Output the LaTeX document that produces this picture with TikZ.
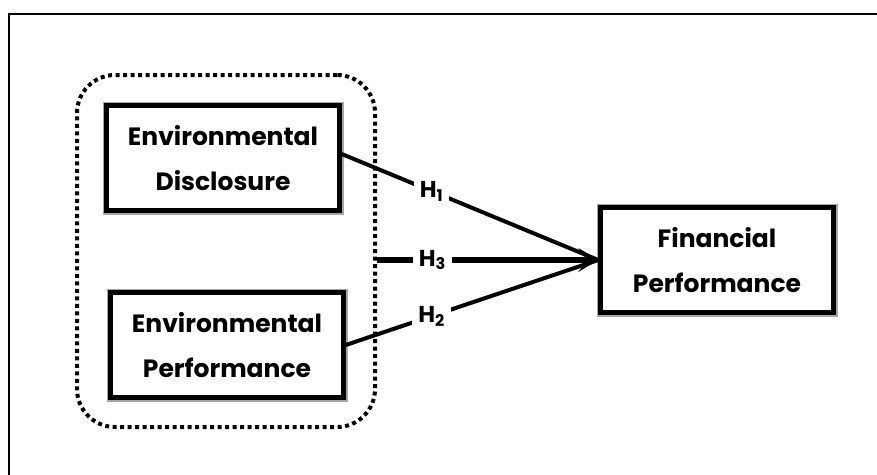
\documentclass[tikz,border=0pt]{standalone}
\usepackage{fontspec}
\setmainfont{Poppins}
\usetikzlibrary{arrows.meta}
\begin{document}
\begin{tikzpicture}[x=1pt, y=-1pt,
  box/.style={draw, line width=4.5pt, fill=white, inner sep=0pt,
    minimum width=233pt, minimum height=105pt, align=center,
    font=\fontsize{25}{45}\selectfont\bfseries,
    preaction={draw=gray!70, line width=8pt}},
  hyp/.style={fill=white, inner sep=6pt, font=\fontsize{23}{23}\selectfont\bfseries},
  path/.style={line width=4pt}]
\useasboundingbox (0,0) rectangle (877,474);
% outer frame
\draw[line width=1.8pt] (9,480) -- (9,14) -- (885,14);
% group of the two environmental variables
\node[draw, line width=4pt, dash pattern=on 4pt off 3.5pt, rounded corners=38pt,
  minimum width=298pt, minimum height=352pt] (grp) at (226,251) {};
\node[box] (ed) at (223,158) {Environmental\\Disclosure};
\node[box] (ep) at (227,345) {Environmental\\Performance};
\node[box] (fp) at (717,260) {Financial\\Performance};
% hypotheses
\draw[path] ([yshift=4pt]ed.east) -- node[hyp, pos=0.35] {H\textsubscript{1}} (fp.west);
\draw[path] (ep.east) -- node[hyp, pos=0.34] {H\textsubscript{2}} (fp.west);
\draw[path, line width=5.5pt, -{Stealth[length=20pt, width=24pt, inset=9pt]}]
  (grp.east |- fp.west) -- node[hyp, pos=0.25] {H\textsubscript{3}} (fp.west);
\end{tikzpicture}
\end{document}
